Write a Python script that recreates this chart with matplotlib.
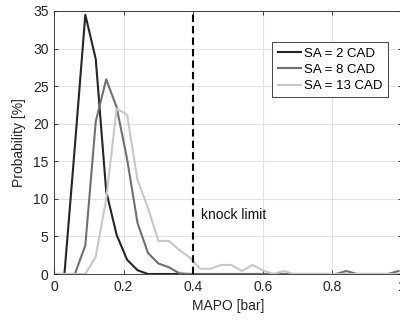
import numpy as np
import matplotlib
matplotlib.use("Agg")
import matplotlib.pyplot as plt

plt.rcParams['font.family'] = ['Liberation Sans', 'DejaVu Sans']

# valeurs (pas de 0.03 bar)
mapo = np.round(np.arange(34) * 0.03, 2)
sa2 = [0, 0, 17, 34.5, 28.6, 11, 5.2, 1.9, 0.5, 0,
       0, 0, 0, 0, 0, 0, 0, 0, 0, 0,
       0, 0, 0, 0, 0, 0, 0, 0, 0, 0,
       0, 0, 0, 0]
sa8 = [0, 0, 0, 3.8, 20.3, 25.9, 22.2, 15.3, 6.8, 2.8,
       1.4, 0.9, 0.1, 0, 0, 0, 0, 0, 0, 0,
       0, 0, 0, 0, 0, 0, 0, 0, 0.4, 0,
       0, 0, 0, 0.4]
sa13 = [0, 0, 0, 0, 2.3, 10, 22, 21.2, 12.5, 8.8,
        4.4, 4.4, 3.2, 2.2, 0.7, 0.7, 1.2, 1.2, 0.4, 1.2,
        0.5, 0, 0.4, 0, 0, 0, 0, 0, 0, 0,
        0, 0, 0, 0]
labels = ['SA = 2 CAD', 'SA = 8 CAD', 'SA = 13 CAD']
couleurs = ['#262626', '#707070', '#c8c8c8']
knock = 0.4

fig = plt.figure(figsize=(4, 3.24), dpi=100)
ax = fig.add_axes([54 / 400, 1 - 274 / 324, 348 / 400, 263 / 324])

for serie, lab, c in zip([sa2, sa8, sa13], labels, couleurs):
    ax.plot(mapo, serie, color=c, lw=1.5, label=lab)

ax.axvline(knock, color='black', lw=1.5, ls=(0, (3.5, 2)))
ax.text(knock + 0.022, 7.9, 'knock limit', fontsize=10, va='center', ha='left', color='#111111')

ax.set_xlim(0, 1)
ax.set_ylim(0, 35)
ax.set_xticks([0, 0.2, 0.4, 0.6, 0.8, 1])
ax.set_xticklabels(['0', '0.2', '0.4', '0.6', '0.8', '1'])
ax.set_yticks(range(0, 36, 5))
ax.grid(True, color='#e3e3e3', lw=0.8)
ax.set_axisbelow(True)
ax.tick_params(direction='in', length=3, width=0.6, top=True, right=True,
               labelsize=10, colors='#262626', pad=4)
for s in ax.spines.values():
    s.set_linewidth(0.6)
    s.set_color('#262626')

ax.set_xlabel('MAPO [bar]', fontsize=10, color='#262626', labelpad=4)
ax.set_ylabel('Probability [%]', fontsize=10, color='#262626', labelpad=5)

leg = ax.legend(loc='upper right', bbox_to_anchor=(387.7 / 400, 1 - 42.3 / 324),
                bbox_transform=fig.transFigure, borderaxespad=0, fontsize=9.5,
                handlelength=1.8, handletextpad=0.2, labelspacing=0.3,
                borderpad=0.4, fancybox=False, framealpha=1)
leg.get_frame().set_edgecolor('#262626')
leg.get_frame().set_linewidth(0.6)

fig.savefig('out.png', dpi=100)
